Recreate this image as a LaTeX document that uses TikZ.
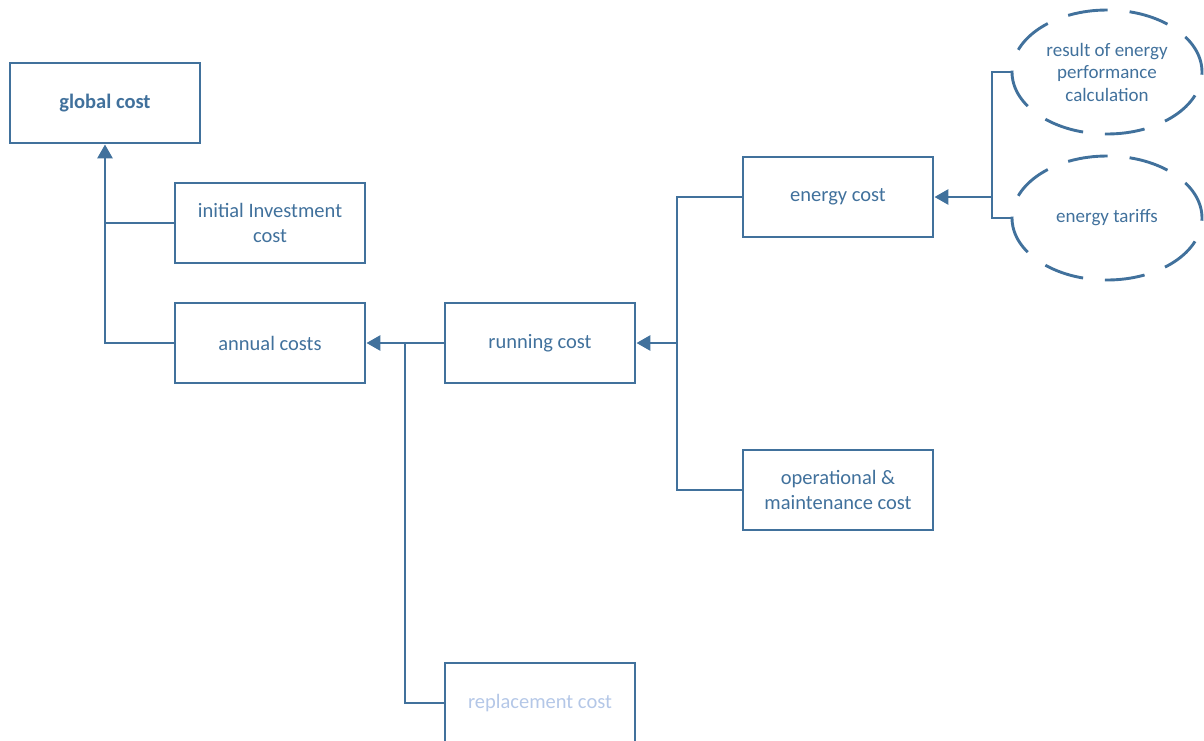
\documentclass[tikz,border=0pt]{standalone}
\usepackage{fontspec}
\setmainfont{Carlito}
\usetikzlibrary{arrows.meta,shapes.geometric}
\definecolor{vblue}{HTML}{41719C}
\definecolor{vlight}{HTML}{B4C7E7}
\tikzset{
  box/.style={draw=vblue, line width=2.9pt, minimum width=190pt, minimum height=80pt, inner sep=0pt,
     text=vblue, align=center, font=\fontsize{20.5}{25}\selectfont},
  oval/.style={draw=vblue, line width=2.9pt, ellipse, minimum width=190pt, minimum height=124pt, inner sep=0pt,
     text=vblue, align=center, font=\fontsize{19}{22.5}\selectfont, dash pattern=on 40pt off 22pt},
  conn/.style={draw=vblue, line width=2.9pt},
  arr/.style={conn, -{Triangle[length=14pt,width=15pt]}}
}
\begin{document}
\begin{tikzpicture}[x=1pt,y=-1pt]
\useasboundingbox (0,0) rectangle (1204,740);
\node[box, font=\fontsize{20.5}{25}\selectfont\bfseries] (global) at (105,103) {global cost};
\node[box] (invest) at (270,223) {initial Investment\\cost};
\node[box] (annual) at (270,343) {annual costs};
\node[box] (running) at (540,343) {running cost};
\node[box, text=vlight] (replace) at (540,703) {replacement cost};
\node[box] (energy) at (838,197) {energy cost};
\node[box] (oper) at (838,490) {operational \&\\maintenance cost};
\node[oval] (result) at (1107,72) {result of energy\\performance\\calculation};
\node[oval] (tariff) at (1107,218) {energy tariffs};
\coordinate (j1) at (105,343);
\coordinate (j2) at (405,343);
\coordinate (j3) at (677,343);
\coordinate (j4) at (992,197);
% global cost
\draw[arr] (annual.west) -- (j1) -- (global.south);
\draw[conn] (invest.west) -- (invest.west -| j1);
% annual costs
\draw[arr] (running.west) -- (annual.east);
\draw[conn] (replace.west) -| (j2);
% running cost
\draw[arr] (j3) -- (running.east);
\draw[conn] (energy.west) -| (j3);
\draw[conn] (oper.west) -| (j3);
% energy cost
\draw[arr] (j4) -- (energy.east);
\draw[conn] (result.west) -| (j4);
\draw[conn] (tariff.west) -| (j4);
\end{tikzpicture}
\end{document}
